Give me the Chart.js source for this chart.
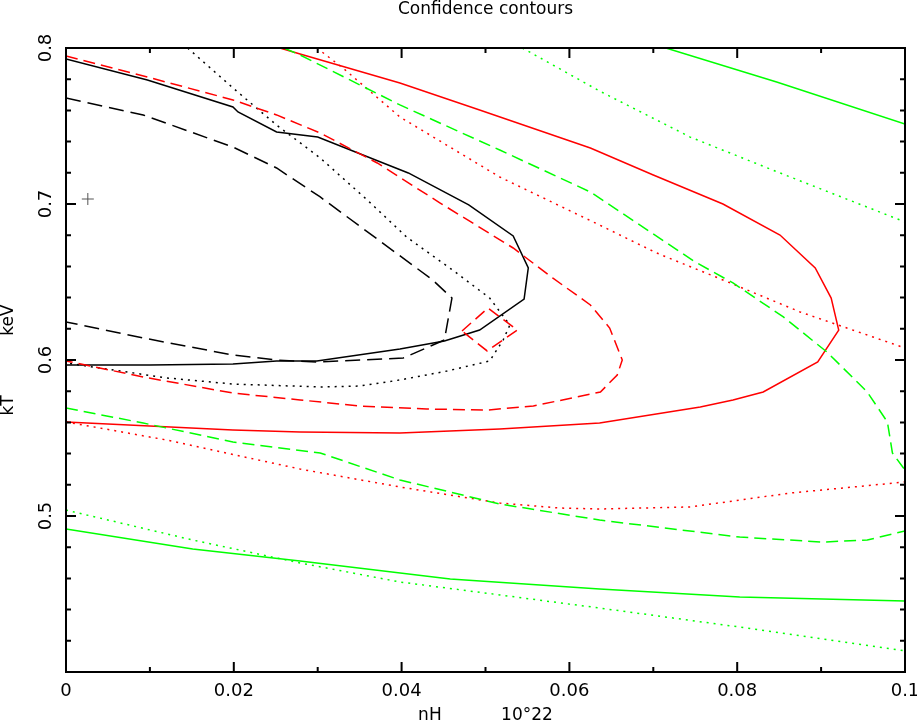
<!DOCTYPE html>
<html lang="en">

<head>
    <title>Confidence contours</title>
    <meta charset="utf-8">
    <script src="https://cdn.jsdelivr.net/npm/chart.js@4.4.0/dist/chart.umd.min.js"></script>
    <style>
        body { margin: 0; background: #fff; }
    </style>
</head>

<body>
    <canvas id="myChart" width="917" height="724"></canvas>
    <script>
        // axis text and ticks
        var titleText = 'Confidence contours';
        var xTitle = 'nH           10\u00b022';
        var yTitle = 'kT           keV';
        var xTicks = [0, 0.02, 0.04, 0.06, 0.08, 0.1];
        var xTickLabels = ['0', '0.02', '0.04', '0.06', '0.08', '0.1'];
        var xMinorTicks = [0.01, 0.03, 0.05, 0.07, 0.09];
        var yTicks = [0.5, 0.6, 0.7, 0.8];
        var yTickLabels = ['0.5', '0.6', '0.7', '0.8'];
        var yMinorTicks = [0.42, 0.44, 0.46, 0.48, 0.52, 0.54, 0.56, 0.58, 0.62, 0.64, 0.66, 0.68, 0.72, 0.74, 0.76, 0.78];

        // best fit
        var bestFitX = [0.0026];
        var bestFitY = [0.7032];

        // solid set
        var blackSolidX = [0, 0.0097, 0.0199, 0.0205, 0.0251, 0.030, 0.0408, 0.048, 0.0533, 0.0551, 0.0546, 0.0493, 0.0451, 0.0398, 0.0299, 0.0251, 0.0199, 0.010, 0];
        var blackSolidY = [0.7929, 0.7795, 0.7622, 0.759, 0.7462, 0.7429, 0.7199, 0.6994, 0.6795, 0.659, 0.6391, 0.6192, 0.6122, 0.6071, 0.5994, 0.5994, 0.5974, 0.5968, 0.5968];
        var redSolidX = [0.0255, 0.0279, 0.0398, 0.0493, 0.0625, 0.07, 0.0783, 0.0851, 0.0893, 0.0912, 0.0921, 0.0896, 0.0831, 0.0795, 0.0756, 0.0636, 0.0517, 0.0398, 0.0279, 0.0199, 0];
        var redSolidY = [0.8, 0.7962, 0.7776, 0.7603, 0.7359, 0.7186, 0.7, 0.6801, 0.659, 0.6397, 0.6192, 0.5987, 0.5795, 0.5744, 0.5699, 0.5596, 0.5558, 0.5532, 0.5538, 0.5551, 0.5603];
        var greenSolidUpX = [0.0715, 0.0847, 0.1];
        var greenSolidUpY = [0.8, 0.7782, 0.7513];
        var greenSolidLowX = [0, 0.0151, 0.0279, 0.0458, 0.0636, 0.0803, 0.1];
        var greenSolidLowY = [0.4917, 0.4788, 0.4712, 0.4596, 0.4532, 0.4481, 0.4455];

        // dashed set
        var blackDashX = [0, 0.0092, 0.0199, 0.0251, 0.0303, 0.0437, 0.046, 0.0451, 0.0402, 0.0299, 0.0251, 0.0199, 0.0092, 0];
        var blackDashY = [0.7679, 0.7571, 0.7365, 0.7231, 0.7045, 0.6513, 0.6397, 0.6128, 0.6013, 0.5987, 0.6, 0.6032, 0.6141, 0.6244];
        var redDashX = [0, 0.0097, 0.0199, 0.0251, 0.0303, 0.0371, 0.0446, 0.0533, 0.058, 0.0625, 0.0648, 0.0663, 0.0657, 0.0637, 0.0557, 0.0502, 0.043, 0.035, 0.0279, 0.0199, 0.0092, 0];
        var redDashY = [0.7949, 0.7814, 0.7667, 0.7571, 0.7455, 0.7263, 0.7006, 0.6718, 0.6526, 0.6353, 0.6205, 0.6, 0.5904, 0.5795, 0.5705, 0.5679, 0.5686, 0.5705, 0.5744, 0.5788, 0.5891, 0.5994];
        var redIslandX = [0.0472, 0.0503, 0.0538, 0.0502, 0.0472];
        var redIslandY = [0.6186, 0.6333, 0.6192, 0.6058, 0.6186];
        var greenDashUpX = [0.026, 0.0279, 0.0398, 0.0517, 0.0625, 0.075, 0.0795, 0.0855, 0.0907, 0.0955, 0.0979, 0.0985, 0.1];
        var greenDashUpY = [0.8, 0.7955, 0.7635, 0.7346, 0.7077, 0.6628, 0.6494, 0.6276, 0.6051, 0.5795, 0.5603, 0.5404, 0.5295];
        var greenDashLowX = [0, 0.0092, 0.0199, 0.0303, 0.0398, 0.0517, 0.0636, 0.0803, 0.0902, 0.0955, 0.1];
        var greenDashLowY = [0.5692, 0.5596, 0.5474, 0.5404, 0.5231, 0.5077, 0.4974, 0.4865, 0.4833, 0.4846, 0.4904];

        // dotted set
        var blackDotX = [0.0145, 0.0199, 0.0251, 0.0303, 0.0359, 0.0406, 0.0464, 0.0505, 0.0529, 0.0521, 0.0505, 0.0454, 0.0398, 0.035, 0.0303, 0.0199, 0.012, 0];
        var blackDotY = [0.8, 0.7744, 0.7506, 0.7295, 0.7026, 0.6788, 0.6564, 0.6397, 0.6224, 0.6128, 0.5994, 0.5929, 0.5872, 0.5833, 0.5827, 0.5846, 0.5885, 0.5981];
        var redDotUpX = [0.0299, 0.033, 0.0398, 0.0517, 0.0636, 0.0704, 0.0783, 0.0875, 0.1];
        var redDotUpY = [0.8, 0.7872, 0.7558, 0.7173, 0.6865, 0.6686, 0.6513, 0.6308, 0.6077];
        var redDotLowX = [0, 0.012, 0.0279, 0.0398, 0.0517, 0.0589, 0.0636, 0.0744, 0.0863, 0.1];
        var redDotLowY = [0.5603, 0.5487, 0.5301, 0.5186, 0.5083, 0.5051, 0.5045, 0.5058, 0.5147, 0.5218];
        var greenDotUpX = [0.0544, 0.0636, 0.0744, 0.0851, 0.1];
        var greenDotUpY = [0.8, 0.7724, 0.7429, 0.7199, 0.6885];
        var greenDotLowX = [0, 0.0151, 0.0279, 0.0398, 0.0517, 0.0636, 0.0803, 0.1];
        var greenDotLowY = [0.5038, 0.4846, 0.4699, 0.4577, 0.4494, 0.441, 0.4288, 0.4135];

        var black = '#000000';
        var red = '#ff0000';
        var green = '#00ff00';
        var solid = [];
        var dashed = [12, 6];
        var longDash = [15, 7];
        var dotted = [2, 5];

        function points(xs, ys) {
            var pts = [];
            for (var i = 0; i < xs.length; i++) {
                pts.push({ x: xs[i], y: ys[i] });
            }
            return pts;
        }

        function contour(xs, ys, color, dash) {
            return {
                data: points(xs, ys),
                showLine: true,
                borderColor: color,
                borderWidth: 1.5,
                borderDash: dash,
                pointRadius: 0,
                fill: false,
                tension: 0
            };
        }

        var datasets = [
            contour(greenSolidUpX, greenSolidUpY, green, solid),
            contour(greenSolidLowX, greenSolidLowY, green, solid),
            contour(greenDashUpX, greenDashUpY, green, dashed),
            contour(greenDashLowX, greenDashLowY, green, dashed),
            contour(greenDotUpX, greenDotUpY, green, dotted),
            contour(greenDotLowX, greenDotLowY, green, dotted),
            contour(redSolidX, redSolidY, red, solid),
            contour(redDashX, redDashY, red, dashed),
            contour(redIslandX, redIslandY, red, dashed),
            contour(redDotUpX, redDotUpY, red, dotted),
            contour(redDotLowX, redDotLowY, red, dotted),
            contour(blackSolidX, blackSolidY, black, solid),
            contour(blackDashX, blackDashY, black, longDash),
            contour(blackDotX, blackDotY, black, dotted),
            {
                data: points(bestFitX, bestFitY),
                pointStyle: 'cross',
                pointRadius: 6,
                borderColor: '#555555',
                borderWidth: 1,
                showLine: false
            }
        ];

        // frame, inward ticks and text, drawn from the chart's own scales
        var framePlugin = {
            id: 'frame',
            afterDatasetsDraw: function (chart) {
                var ctx = chart.ctx;
                var a = chart.chartArea;
                var xs = chart.scales.x;
                var ys = chart.scales.y;
                var i, p;
                ctx.save();
                ctx.strokeStyle = '#000';
                ctx.lineWidth = 2;
                ctx.strokeRect(a.left, a.top, a.right - a.left, a.bottom - a.top);
                ctx.beginPath();
                function xTick(v, len) {
                    p = xs.getPixelForValue(v);
                    ctx.moveTo(p, a.bottom); ctx.lineTo(p, a.bottom - len);
                    ctx.moveTo(p, a.top); ctx.lineTo(p, a.top + len);
                }
                function yTick(v, len) {
                    p = ys.getPixelForValue(v);
                    ctx.moveTo(a.left, p); ctx.lineTo(a.left + len, p);
                    ctx.moveTo(a.right, p); ctx.lineTo(a.right - len, p);
                }
                for (i = 0; i < xTicks.length; i++) xTick(xTicks[i], 10);
                for (i = 0; i < xMinorTicks.length; i++) xTick(xMinorTicks[i], 5);
                for (i = 0; i < yTicks.length; i++) yTick(yTicks[i], 10);
                for (i = 0; i < yMinorTicks.length; i++) yTick(yMinorTicks[i], 5);
                ctx.stroke();

                ctx.fillStyle = '#000';
                ctx.textAlign = 'center';
                ctx.textBaseline = 'middle';
                ctx.font = '18px "DejaVu Sans"';
                for (i = 0; i < xTicks.length; i++) {
                    ctx.fillText(xTickLabels[i], xs.getPixelForValue(xTicks[i]), a.bottom + 19);
                }
                for (i = 0; i < yTicks.length; i++) {
                    ctx.save();
                    ctx.translate(a.left - 20, ys.getPixelForValue(yTicks[i]));
                    ctx.rotate(-Math.PI / 2);
                    ctx.fillText(yTickLabels[i], 0, 0);
                    ctx.restore();
                }
                ctx.font = '17px "DejaVu Sans"';
                var cx = (a.left + a.right) / 2;
                var cy = (a.top + a.bottom) / 2;
                ctx.fillText(titleText, cx, 10);
                ctx.fillText(xTitle, cx, a.bottom + 44);
                ctx.save();
                ctx.translate(9, cy);
                ctx.rotate(-Math.PI / 2);
                ctx.fillText(yTitle, 0, 0);
                ctx.restore();
                ctx.restore();
            }
        };

        var ctx = document.getElementById('myChart').getContext('2d');
        var chart = new Chart(ctx, {
            type: 'scatter',
            data: { datasets: datasets },
            options: {
                responsive: false,
                animation: false,
                layout: { padding: { left: 66, right: 12, top: 48, bottom: 52 } },
                scales: {
                    x: { type: 'linear', min: 0, max: 0.1, display: false },
                    y: { type: 'linear', min: 0.4, max: 0.8, display: false }
                },
                plugins: {
                    legend: { display: false },
                    tooltip: { enabled: false }
                }
            },
            plugins: [framePlugin]
        });
    </script>
</body>

</html>
